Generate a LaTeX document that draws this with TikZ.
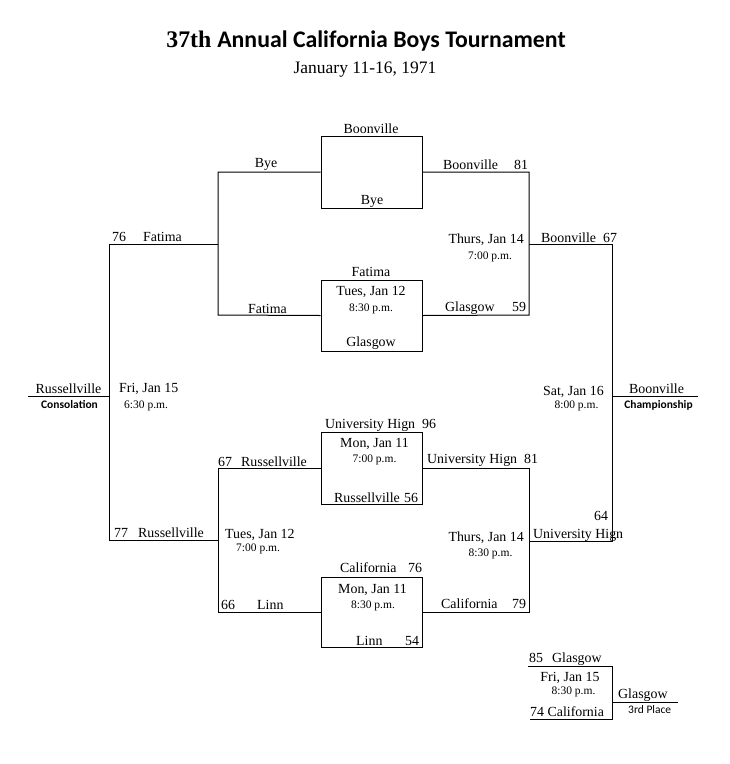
\documentclass[tikz,border=0pt]{standalone}
\usepackage{fontspec}
\setmainfont{Liberation Serif}
\newfontfamily\calib{Carlito}
\tikzset{
  lab/.style={inner sep=0pt, font=\fontsize{13.9}{14}\selectfont},
  sm/.style={inner sep=0pt, font=\fontsize{11.5}{12}\selectfont},
  sansb/.style={inner sep=0pt, font=\calib\bfseries\fontsize{11.5}{12}\selectfont},
  sansr/.style={inner sep=0pt, font=\calib\fontsize{11.5}{12}\selectfont},
  gamebox/.style={draw, line width=1pt, inner sep=0pt, minimum width=101pt},
  ln/.style={line width=1pt},
}
\begin{document}
\begin{tikzpicture}[x=1pt,y=-1pt]
\useasboundingbox (0,0) rectangle (730,764);
% title
\node[anchor=base, inner sep=0pt, font=\fontsize{23.8}{26}\selectfont] (title) at (366,47)
  {{\bfseries 37th} {\calib\bfseries Annual California Boys Tournament}};
\node[anchor=base, inner sep=0pt, font=\fontsize{17.5}{18}\selectfont] (sub) at (365,73) {January 11-16, 1971};

% boxes
\node[gamebox, minimum height=72pt] (b1) at (371.5,172) {};
\node[gamebox, minimum height=71pt] (b2) at (371.5,315.5) {};
\node[gamebox, minimum height=72pt] (b3) at (371.5,468) {};
\node[gamebox, minimum height=70pt] (b4) at (371.5,612) {};

% coordinates
\coordinate (l1t) at (218,172);
\coordinate (l1b) at (218,315);
\coordinate (l1m) at (218,244);
\coordinate (l2t) at (109,244);
\coordinate (l2b) at (109,540);
\coordinate (l2m) at (109,396);
\coordinate (cons) at (28,396);
\coordinate (l3t) at (218,468);
\coordinate (l3b) at (218,612);
\coordinate (l3m) at (218,540);
\coordinate (r1t) at (529,172);
\coordinate (r1b) at (529,315);
\coordinate (r1m) at (529,244);
\coordinate (r2t) at (612,244);
\coordinate (r2b) at (612,541);
\coordinate (r2m) at (612,396);
\coordinate (champ) at (698,396);
\coordinate (r3t) at (529,468);
\coordinate (r3b) at (529,612);
\coordinate (r3m) at (529,541);
\coordinate (t3a) at (528,666);
\coordinate (t3b) at (612,666);
\coordinate (t3c) at (612,719);
\coordinate (t3d) at (530,719);
\coordinate (t3m) at (612,702);
\coordinate (third) at (678,702);

% connectors
\draw[ln] (b1.west) -- (l1t) -- (l1b) -- (b2.west);
\draw[ln] (l1m) -- (l2t) -- (l2b) -- (l3m);
\draw[ln] (l2m) -- (cons);
\draw[ln] (b3.west) -- (l3t) -- (l3b) -- (b4.west);
\draw[ln] (b1.east) -- (r1t) -- (r1b) -- (b2.east);
\draw[ln] (r1m) -- (r2t) -- (r2b) -- (r3m);
\draw[ln] (r2m) -- (champ);
\draw[ln] (b3.east) -- (r3t) -- (r3b) -- (b4.east);
\draw[ln] (t3a) -- (t3b) -- (t3c) -- (t3d);
\draw[ln] (t3m) -- (third);

% box 1
\node[lab, anchor=base] (x1a) at (371,133) {Boonville};
\node[lab, anchor=base] (x1b) at (372,204) {Bye};
% left upper
\node[lab, anchor=base] (xBye) at (266,167) {Bye};
\node[lab, anchor=base west] (x76) at (112,241) {76};
\node[lab, anchor=base west] (xFat1) at (143,241) {Fatima};
\node[lab, anchor=base west] (xFat2) at (248,313) {Fatima};
% box 2
\node[lab, anchor=base] (x2a) at (371,276) {Fatima};
\node[lab, anchor=base] (x2d) at (371,295) {Tues, Jan 12};
\node[sm, anchor=base] (x2t) at (371,311) {8:30 p.m.};
\node[lab, anchor=base] (x2b) at (371,346) {Glasgow};
% right upper
\node[lab, anchor=base west] (xBoon81) at (443,169) {Boonville};
\node[lab, anchor=base west] (x81) at (514,169) {81};
\node[lab, anchor=base east] (xThu1) at (524,243) {Thurs, Jan 14};
\node[sm, anchor=base] (xThu1t) at (490,259) {7:00 p.m.};
\node[lab, anchor=base west] (xGlas) at (445,311) {Glasgow};
\node[lab, anchor=base west] (x59) at (512,311) {59};
\node[lab, anchor=base west] (xBoon67) at (541,242) {Boonville};
\node[lab, anchor=base west] (x67a) at (603,242) {67};
% consolation
\node[lab, anchor=base] (xRus) at (68.5,393) {Russellville};
\node[sansb, anchor=base] (xCons) at (69.5,408) {Consolation};
\node[lab, anchor=base west] (xFri) at (119,392) {Fri, Jan 15};
\node[sm, anchor=base west] (xFriT) at (124,408) {6:30 p.m.};
% left lower
\node[lab, anchor=base west] (x67b) at (218,466) {67};
\node[lab, anchor=base west] (xRus2) at (241,466) {Russellville};
\node[lab, anchor=base west] (x77) at (114,537) {77};
\node[lab, anchor=base west] (xRus3) at (138,537) {Russellville};
\node[lab, anchor=base west] (xTue) at (225,538) {Tues, Jan 12};
\node[sm, anchor=base west] (xTueT) at (236,551) {7:00 p.m.};
\node[lab, anchor=base west] (x66) at (221,609) {66};
\node[lab, anchor=base west] (xLinn) at (257,609) {Linn};
% box 3
\node[lab, anchor=base west] (x3a) at (325,428) {University Hign};
\node[lab, anchor=base west] (x96) at (422,428) {96};
\node[lab, anchor=base] (x3d) at (374.5,447) {Mon, Jan 11};
\node[sm, anchor=base] (x3t) at (374.5,462) {7:00 p.m.};
\node[lab, anchor=base west] (x3b) at (334,502) {Russellville};
\node[lab, anchor=base west] (x56) at (404,502) {56};
% box 4
\node[lab, anchor=base west] (x4a) at (340,572) {California};
\node[lab, anchor=base west] (x76b) at (408,572) {76};
\node[lab, anchor=base] (x4d) at (372.5,593) {Mon, Jan 11};
\node[sm, anchor=base] (x4t) at (373,608) {8:30 p.m.};
\node[lab, anchor=base west] (x4b) at (356,645) {Linn};
\node[lab, anchor=base west] (x54) at (405,645) {54};
% right lower
\node[lab, anchor=base west] (xUH81) at (427,463) {University Hign};
\node[lab, anchor=base west] (x81b) at (524,463) {81};
\node[lab, anchor=base west] (x64) at (594,520) {64};
\node[lab, anchor=base west] (xUH) at (533,538) {University Hign};
\node[lab, anchor=base east] (xThu2) at (524,541) {Thurs, Jan 14};
\node[sm, anchor=base] (xThu2T) at (490.5,556) {8:30 p.m.};
\node[lab, anchor=base west] (xCal79) at (441,608) {California};
\node[lab, anchor=base west] (x79) at (512,608) {79};
% championship
\node[lab, anchor=base east] (xSat) at (604,395) {Sat, Jan 16};
\node[sm, anchor=base] (xSatT) at (576.5,408) {8:00 p.m.};
\node[lab, anchor=base] (xChamp) at (656.5,393) {Boonville};
\node[sansb, anchor=base] (xChampL) at (658.5,408) {Championship};
% third place
\node[lab, anchor=base west] (x85) at (529,662) {85};
\node[lab, anchor=base west] (xGl3) at (552,662) {Glasgow};
\node[lab, anchor=base] (xFri3) at (570,681) {Fri, Jan 15};
\node[sm, anchor=base] (xFri3T) at (573.5,694) {8:30 p.m.};
\node[lab, anchor=base west] (x74) at (530,716) {74 California};
\node[lab, anchor=base west] (xGl3w) at (618,698) {Glasgow};
\node[sansr, anchor=base west] (x3rd) at (628,713) {3rd Place};
\end{tikzpicture}
\end{document}
